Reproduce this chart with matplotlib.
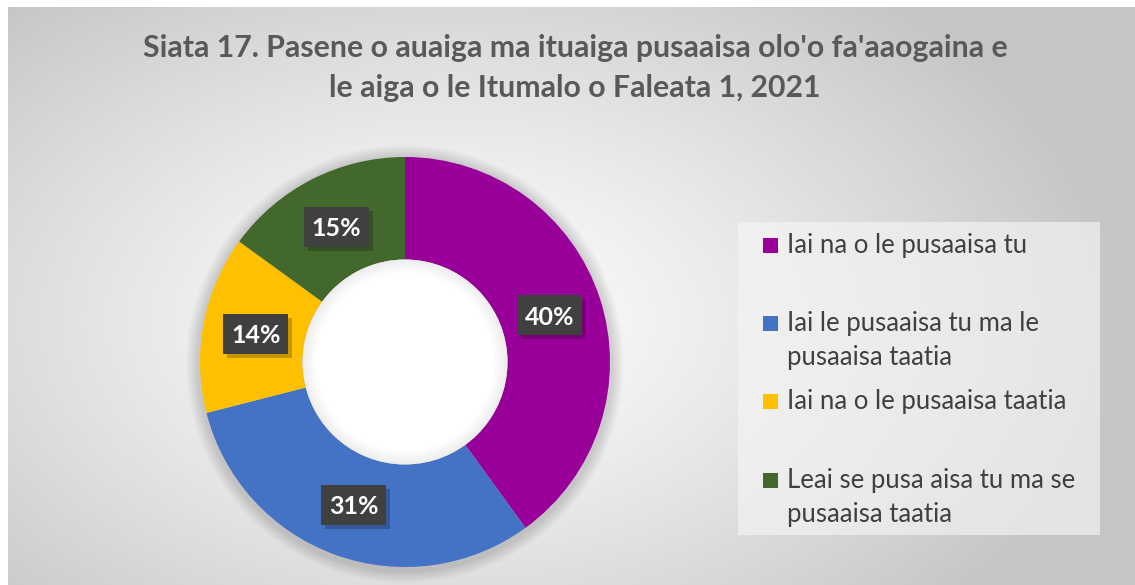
import numpy as np
import matplotlib
matplotlib.use("Agg")
import matplotlib.pyplot as plt
from matplotlib.patches import Rectangle, Circle

# ---- data ----
categories = ["Iai na o le pusaaisa tu",
              "Iai le pusaaisa tu ma le\npusaaisa taatia",
              "Iai na o le pusaaisa taatia",
              "Leai se pusa aisa tu ma se\npusaaisa taatia"]
values = [40, 31, 14, 15]
colors = ["#990099", "#4472C4", "#FFC000", "#43682B"]
title = "Siata 17. Pasene o auaiga ma ituaiga pusaaisa olo'o fa'aaogaina e\nle aiga o le Itumalo o Faleata 1, 2021"

W, H = 1135, 585
plt.rcParams['font.family'] = ['Lato', 'DejaVu Sans']
fig = plt.figure(figsize=(W / 100, H / 100), dpi=100)
fig.patch.set_facecolor("white")

# ---- background gradient (in pixel space) ----
bg = fig.add_axes([0, 0, 1, 1])
bg.set_xlim(0, W)
bg.set_ylim(H, 0)
bg.axis("off")
yy, xx = np.mgrid[0:H, 0:W]
d = np.sqrt(((xx - 450) / 680.0) ** 2 + ((yy - 320) / 430.0) ** 2)
shade = 255 - 58 * np.clip(d, 0, 1) ** 1.2
img = np.dstack([shade, shade, shade]) / 255.0
img[:7, :, :] = 1.0
img[:, :8, :] = 1.0
bg.imshow(img, extent=(0, W, H, 0), interpolation="bilinear", zorder=0)

# title
bg.text(575, 68, title, ha="center", va="center", fontsize=21.8, fontweight="bold",
        color="#595959", linespacing=1.5, zorder=2)

# ---- donut ----
cx, cy, R = 405, 362, 205
half = 260
ax = fig.add_axes([(cx - half) / W, (H - cy - half) / H, 2 * half / W, 2 * half / H])
ax.axis("off")

# soft outer shadow
for i in range(12):
    ax.add_patch(Circle((0, -2), R + 14 - i, color="black", alpha=0.012, lw=0, zorder=1))

wedges, texts, autotexts = ax.pie(values, colors=colors, radius=R, startangle=90,
                                  counterclock=False,
                                  wedgeprops=dict(width=R * 0.5, linewidth=0),
                                  autopct="%d%%", pctdistance=0.74,
                                  textprops=dict(color="white", fontsize=18,
                                                 fontweight="bold"))
ax.set_xlim(-half, half)
ax.set_ylim(-half, half)
ax.set_aspect("equal")
for w in wedges:
    w.set_zorder(3)

# inner hole shading
inner = R * 0.5
ax.add_patch(Circle((0, 0), inner, color="white", lw=0, zorder=4))
for i in range(14):
    ax.add_patch(Circle((0, 0), inner - i, fill=False, lw=1.2, ec="black",
                        alpha=0.045 * (1 - i / 14), zorder=5))

# label boxes
bw, bh = 65, 40
for t in autotexts:
    x, y = t.get_position()
    ax.add_patch(Rectangle((x - bw / 2 + 4, y - bh / 2 - 4), bw, bh, fc="black",
                           alpha=0.22, lw=0, zorder=6))
    ax.add_patch(Rectangle((x - bw / 2, y - bh / 2), bw, bh, fc="#404040", lw=0, zorder=7))
    t.set_zorder(8)
    t.set_va("center_baseline")
    t.set_ha("center")

# ---- legend (drawn in pixel space) ----
bg.add_patch(Rectangle((738, 222), 362, 313, fc="#F5F5F5", alpha=0.65, lw=0, zorder=2))
row_y = [245, 323, 401, 480]
for i, (lab, col) in enumerate(zip(categories, colors)):
    y = row_y[i]
    bg.add_patch(Rectangle((763, y - 7.5), 15, 15, fc=col, lw=0, zorder=3))
    for k, line in enumerate(lab.split("\n")):
        bg.text(787, y + 8 + 34 * k, line, ha="left", va="baseline", fontsize=18.5,
                color="#404040", zorder=3)

fig.savefig("out.png", dpi=100)
